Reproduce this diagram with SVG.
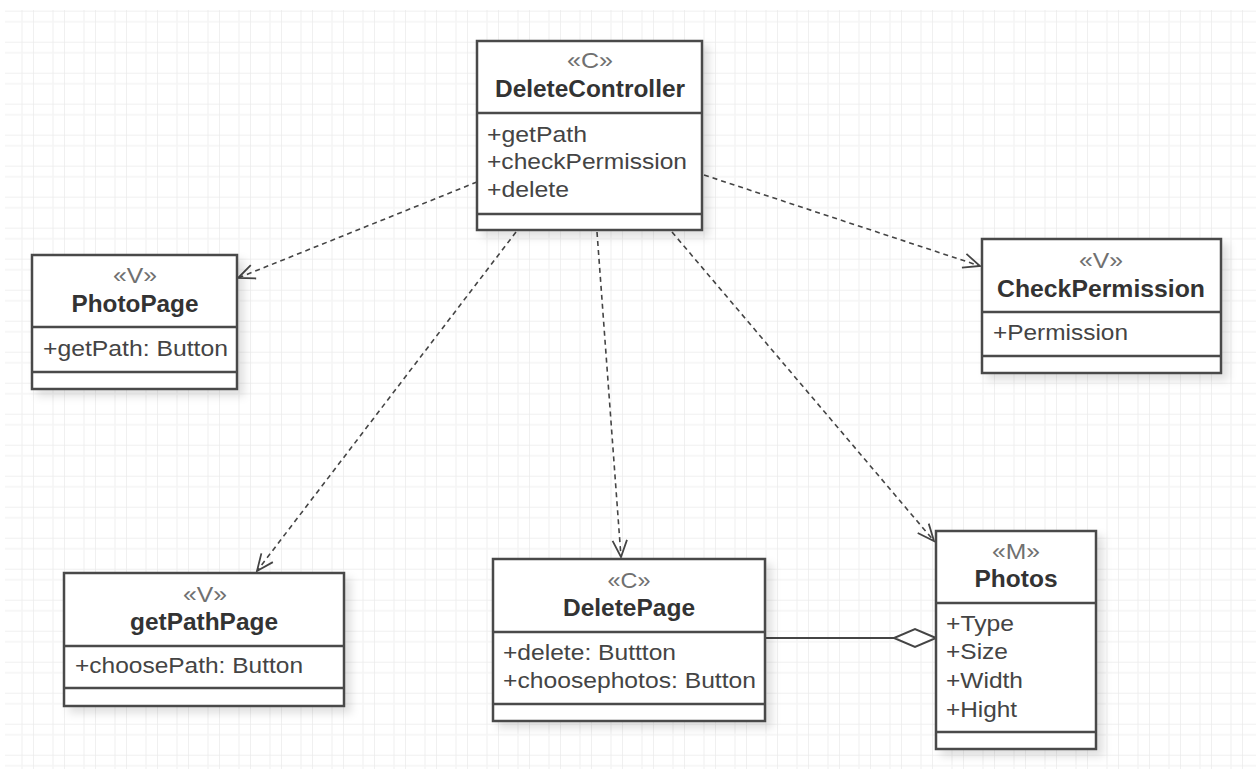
<svg xmlns="http://www.w3.org/2000/svg" width="1256" height="769" viewBox="0 0 1256 769">
  <defs>
    <style>
      .box { fill: #ffffff; stroke: #4a4a4a; stroke-width: 2.5; }
      .div { stroke: #4a4a4a; stroke-width: 2.5; }
      .stereo { font-family: "Liberation Sans", Arial, sans-serif; font-size: 22px; fill: #707070; text-anchor: middle; }
      .name { font-family: "Liberation Sans", Arial, sans-serif; font-size: 24px; font-weight: bold; fill: #333333; text-anchor: middle; }
      .attr { font-family: "Liberation Sans", Arial, sans-serif; font-size: 22.5px; fill: #444444; }
      .dep { fill: none; stroke: #444444; stroke-width: 1.6; stroke-dasharray: 5 4; }
      .assoc { fill: none; stroke: #444444; stroke-width: 2; }
      .gridA { stroke: #ebebeb; stroke-width: 1.5; }
      .gridB { stroke: #f5f5f5; stroke-width: 1.5; }
    </style>
    <pattern id="grid" x="2" y="10.7" width="31" height="31" patternUnits="userSpaceOnUse">
      <line class="gridB" x1="20" y1="0" x2="20" y2="31"/>
      <line class="gridB" x1="0" y1="11" x2="31" y2="11"/>
      <line class="gridA" x1="0" y1="0" x2="0" y2="31"/>
      <line class="gridA" x1="0" y1="0" x2="31" y2="0"/>
    </pattern>
    <filter id="shadow" x="-10%" y="-10%" width="130%" height="130%">
      <feDropShadow dx="6" dy="6" stdDeviation="4" flood-color="#000000" flood-opacity="0.12"/>
    </filter>
    <marker id="open" markerUnits="userSpaceOnUse" markerWidth="20" markerHeight="20" viewBox="-16 -8 18 16" refX="0" refY="0" orient="auto">
      <path d="M-15,-6.5 L0,0 L-15,6.5" fill="none" stroke="#444444" stroke-width="1.6"/>
    </marker>
  </defs>

  <!-- background grid -->
  <rect x="0" y="0" width="1256" height="769" fill="#ffffff"/>
  <rect x="5" y="10" width="1251" height="759" fill="url(#grid)"/>

  <!-- connectors -->
  <g id="connectors">
    <line class="dep" x1="477" y1="182" x2="238" y2="278" marker-end="url(#open)"/>
    <line class="dep" x1="704" y1="175" x2="980" y2="266" marker-end="url(#open)"/>
    <line class="dep" x1="516" y1="232" x2="257" y2="571" marker-end="url(#open)"/>
    <line class="dep" x1="597" y1="232" x2="621" y2="557" marker-end="url(#open)"/>
    <line class="dep" x1="672" y1="232" x2="934" y2="541" marker-end="url(#open)"/>
    <line class="assoc" x1="765" y1="638" x2="894" y2="638"/>
    <polygon points="936,638 915,629 894,638 915,647" fill="#ffffff" stroke="#444444" stroke-width="2"/>
  </g>

  <!-- DeleteController -->
  <g id="DeleteController">
    <rect class="box" x="477" y="41" width="225" height="189" filter="url(#shadow)"/>
    <line class="div" x1="477" y1="113" x2="702" y2="113"/>
    <line class="div" x1="477" y1="214" x2="702" y2="214"/>
    <text class="stereo" x="590" y="68" textLength="46" lengthAdjust="spacingAndGlyphs">«C»</text>
    <text class="name" x="590" y="97" textLength="190" lengthAdjust="spacingAndGlyphs">DeleteController</text>
    <text class="attr" x="487" y="142" textLength="100" lengthAdjust="spacingAndGlyphs">+getPath</text>
    <text class="attr" x="487" y="169" textLength="200" lengthAdjust="spacingAndGlyphs">+checkPermission</text>
    <text class="attr" x="487" y="197" textLength="82" lengthAdjust="spacingAndGlyphs">+delete</text>
  </g>

  <!-- PhotoPage -->
  <g id="PhotoPage">
    <rect class="box" x="32" y="255" width="205" height="134" filter="url(#shadow)"/>
    <line class="div" x1="32" y1="327" x2="237" y2="327"/>
    <line class="div" x1="32" y1="372" x2="237" y2="372"/>
    <text class="stereo" x="135" y="283" textLength="44" lengthAdjust="spacingAndGlyphs">«V»</text>
    <text class="name" x="135" y="312" textLength="127" lengthAdjust="spacingAndGlyphs">PhotoPage</text>
    <text class="attr" x="43" y="356" textLength="185" lengthAdjust="spacingAndGlyphs">+getPath: Button</text>
  </g>

  <!-- CheckPermission -->
  <g id="CheckPermission">
    <rect class="box" x="982" y="239" width="239" height="134" filter="url(#shadow)"/>
    <line class="div" x1="982" y1="312" x2="1221" y2="312"/>
    <line class="div" x1="982" y1="356" x2="1221" y2="356"/>
    <text class="stereo" x="1101" y="268" textLength="44" lengthAdjust="spacingAndGlyphs">«V»</text>
    <text class="name" x="1101" y="297" textLength="208" lengthAdjust="spacingAndGlyphs">CheckPermission</text>
    <text class="attr" x="993" y="340" textLength="135" lengthAdjust="spacingAndGlyphs">+Permission</text>
  </g>

  <!-- getPathPage -->
  <g id="getPathPage">
    <rect class="box" x="64" y="573" width="280" height="133" filter="url(#shadow)"/>
    <line class="div" x1="64" y1="646" x2="344" y2="646"/>
    <line class="div" x1="64" y1="688" x2="344" y2="688"/>
    <text class="stereo" x="205" y="602" textLength="44" lengthAdjust="spacingAndGlyphs">«V»</text>
    <text class="name" x="204" y="630" textLength="148" lengthAdjust="spacingAndGlyphs">getPathPage</text>
    <text class="attr" x="75" y="673" textLength="228" lengthAdjust="spacingAndGlyphs">+choosePath: Button</text>
  </g>

  <!-- DeletePage -->
  <g id="DeletePage">
    <rect class="box" x="493" y="559" width="272" height="162" filter="url(#shadow)"/>
    <line class="div" x1="493" y1="632" x2="765" y2="632"/>
    <line class="div" x1="493" y1="704" x2="765" y2="704"/>
    <text class="stereo" x="629" y="588" textLength="43" lengthAdjust="spacingAndGlyphs">«C»</text>
    <text class="name" x="629" y="616" textLength="132" lengthAdjust="spacingAndGlyphs">DeletePage</text>
    <text class="attr" x="503" y="660" textLength="173" lengthAdjust="spacingAndGlyphs">+delete: Buttton</text>
    <text class="attr" x="503" y="688" textLength="253" lengthAdjust="spacingAndGlyphs">+choosephotos: Button</text>
  </g>

  <!-- Photos -->
  <g id="Photos">
    <rect class="box" x="936" y="531" width="160" height="218" filter="url(#shadow)"/>
    <line class="div" x1="936" y1="603" x2="1096" y2="603"/>
    <line class="div" x1="936" y1="732" x2="1096" y2="732"/>
    <text class="stereo" x="1016" y="559" textLength="48" lengthAdjust="spacingAndGlyphs">«M»</text>
    <text class="name" x="1016" y="587" textLength="83" lengthAdjust="spacingAndGlyphs">Photos</text>
    <text class="attr" x="946" y="631" textLength="68" lengthAdjust="spacingAndGlyphs">+Type</text>
    <text class="attr" x="946" y="659" textLength="62" lengthAdjust="spacingAndGlyphs">+Size</text>
    <text class="attr" x="946" y="688" textLength="77" lengthAdjust="spacingAndGlyphs">+Width</text>
    <text class="attr" x="946" y="717" textLength="71" lengthAdjust="spacingAndGlyphs">+Hight</text>
  </g>
</svg>
